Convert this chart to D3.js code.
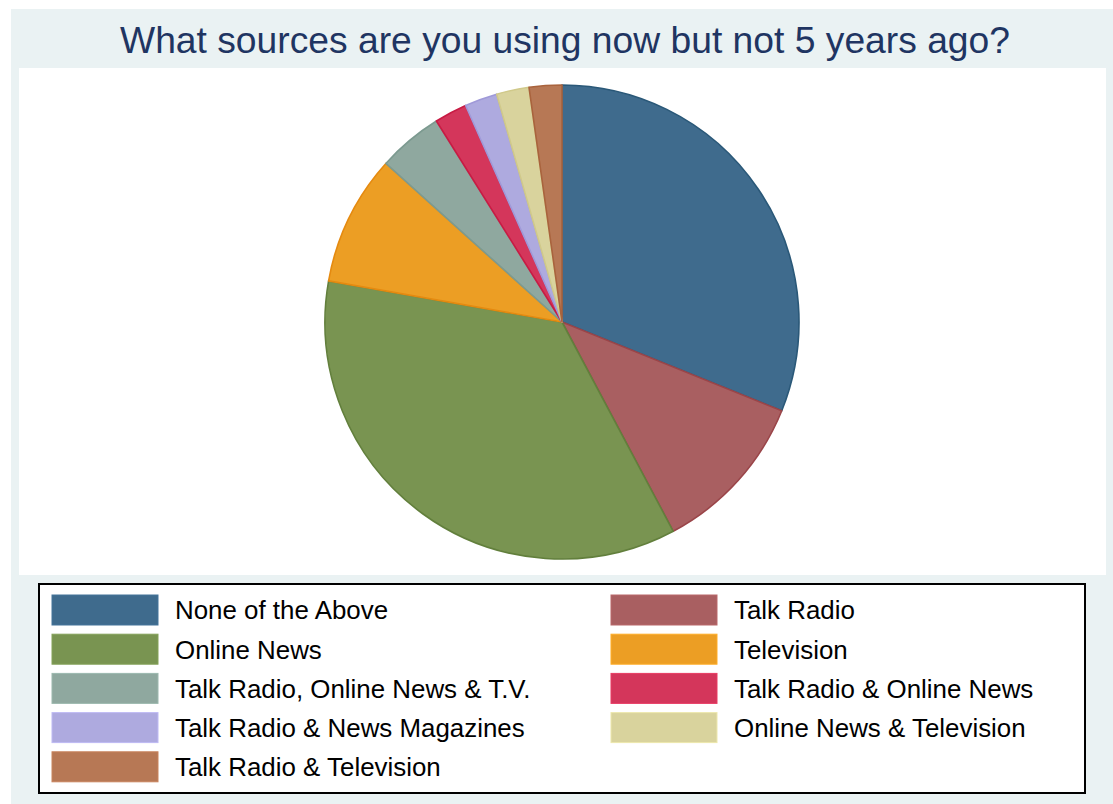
<!DOCTYPE html>
<html>
<head>
<meta charset="utf-8">
<script src="https://cdn.jsdelivr.net/npm/d3@7"></script>
<style>
  html, body { margin: 0; padding: 0; background: #ffffff; }
  svg { display: block; }
</style>
</head>
<body>
<div id="chart"></div>
<script>
// Response categories, in slice order (clockwise from 12 o'clock)
const categories = [
  "None of the Above",
  "Talk Radio",
  "Online News",
  "Television",
  "Talk Radio, Online News & T.V.",
  "Talk Radio & Online News",
  "Talk Radio & News Magazines",
  "Online News & Television",
  "Talk Radio & Television"
];
// Number of respondents per category
const counts = [14, 5, 16, 4, 2, 1, 1, 1, 1];
// Slice fills and outlines
const fills = ["#3f6b8d", "#a95f61", "#799451", "#ec9e24", "#8fa89f", "#d4365b", "#aeaadf", "#d9d39d", "#b77855"];
const strokes = ["#2a5878", "#9a4549", "#627f3c", "#e58a10", "#7c9a90", "#c81b44", "#9f99d8", "#d0c98a", "#a9633d"];
const titleText = "What sources are you using now but not 5 years ago?";

const W = 1113, H = 804;
const svg = d3.select("#chart").append("svg")
  .attr("width", W).attr("height", H);

// Graph region background
svg.append("rect").attr("x", 11).attr("y", 9)
  .attr("width", W - 11).attr("height", H - 9)
  .attr("fill", "#eaf2f3");

// Plot region
const plot = { x: 19, y: 68, w: 1087, h: 507 };
svg.append("rect").attr("x", plot.x).attr("y", plot.y)
  .attr("width", plot.w).attr("height", plot.h)
  .attr("fill", "#ffffff");

// Title
svg.append("text")
  .attr("x", 565).attr("y", 53)
  .attr("text-anchor", "middle")
  .attr("font-family", "'Liberation Sans', Arial, Helvetica, sans-serif")
  .attr("font-size", 37.5)
  .attr("fill", "#1f3562")
  .attr("textLength", 890)
  .attr("lengthAdjust", "spacingAndGlyphs")
  .text(titleText);

// Pie
const cx = 562, cy = 322, r = 237;
const data = categories.map((c, i) => ({ name: c, value: counts[i], i }));
const pie = d3.pie().sort(null).value(d => d.value)
  .startAngle(0).endAngle(2 * Math.PI);
const arc = d3.arc().innerRadius(0).outerRadius(r);

svg.append("g")
  .attr("transform", `translate(${cx},${cy})`)
  .selectAll("path")
  .data(pie(data))
  .join("path")
  .attr("d", arc)
  .attr("fill", d => fills[d.data.i])
  .attr("stroke", d => strokes[d.data.i])
  .attr("stroke-width", 1.6)
  .attr("stroke-linejoin", "round");

// Legend
const lg = { x: 39, y: 584, w: 1046, h: 209 };
svg.append("rect")
  .attr("x", lg.x).attr("y", lg.y)
  .attr("width", lg.w).attr("height", lg.h)
  .attr("fill", "#ffffff")
  .attr("stroke", "#000000")
  .attr("stroke-width", 2);

const colX = [52, 611];
const rowY = d3.range(5).map(k => 610 + k * 39.2);
const items = svg.append("g").selectAll("g")
  .data(data)
  .join("g")
  .attr("transform", d => `translate(${colX[d.i % 2]},${rowY[Math.floor(d.i / 2)]})`);

items.append("rect")
  .attr("x", 0).attr("y", -15)
  .attr("width", 106).attr("height", 30)
  .attr("fill", d => fills[d.i])
  .attr("stroke", d => d3.color(fills[d.i]).brighter(0.25))
  .attr("stroke-width", 1);

items.append("text")
  .attr("x", 123).attr("y", 9.3)
  .attr("font-family", "'Liberation Sans', Arial, Helvetica, sans-serif")
  .attr("font-size", 25.9)
  .attr("fill", "#000000")
  .text(d => d.name);
</script>
</body>
</html>
